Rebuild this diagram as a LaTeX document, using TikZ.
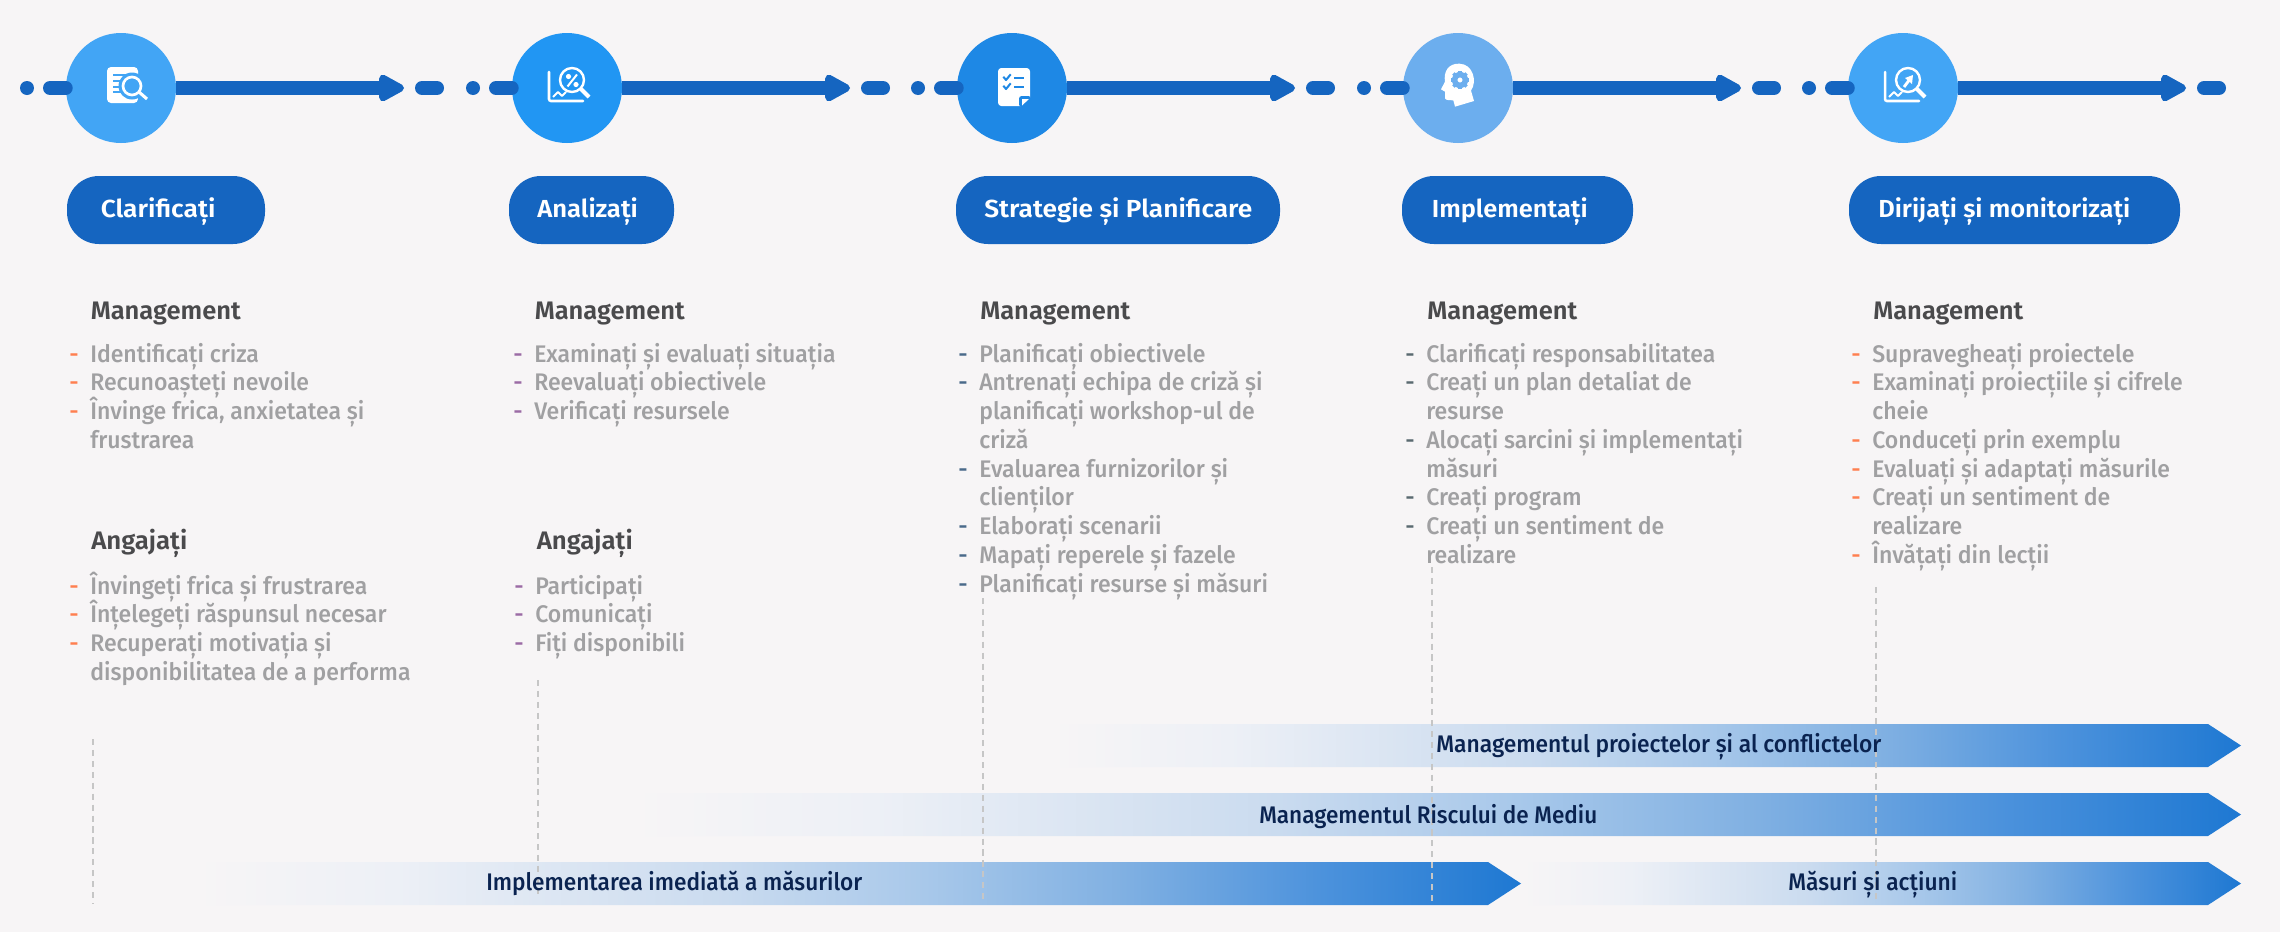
\documentclass[tikz,border=0pt]{standalone}
\usepackage{fontspec}
\usepackage{graphicx}
\setmainfont{Fira Sans}
\newfontfamily\medfont{Fira Sans Medium}
\newfontfamily\listfont[FakeStretch=0.96]{Fira Sans Medium}
\newfontfamily\semifont{Fira Sans SemiBold}
\newcommand{\tightlines}{\lineskiplimit=-20pt\relax}
\usetikzlibrary{arrows.meta}
\definecolor{bgc}{HTML}{F7F5F6}
\definecolor{flowc}{HTML}{1565C0}
\definecolor{cA}{HTML}{42A5F5}
\definecolor{cB}{HTML}{2196F3}
\definecolor{cC}{HTML}{1E88E5}
\definecolor{cD}{HTML}{6CAEEE}
\definecolor{headc}{HTML}{4A4A4C}
\definecolor{listc}{HTML}{A0A0A2}
\definecolor{navyc}{HTML}{0A2350}
\definecolor{dashc}{HTML}{C6C6C6}
\definecolor{dO}{HTML}{FF7F50}
\definecolor{dP}{HTML}{9B6BA5}
\definecolor{dB}{HTML}{4A6A8A}
\definecolor{dG}{HTML}{5A6A70}
\definecolor{g0}{HTML}{F7F5F6}
\definecolor{g1}{HTML}{EDF0F6}
\definecolor{g2}{HTML}{CADBEF}
\definecolor{g3}{HTML}{A8C8EA}
\definecolor{g4}{HTML}{80B0E2}
\definecolor{g5}{HTML}{4C92DC}
\definecolor{g6}{HTML}{1E78D2}
\pgfdeclarehorizontalshading{barfade}{100bp}{color(0bp)=(g0); color(25bp)=(g0); color(32.5bp)=(g1); color(45bp)=(g2); color(52.5bp)=(g3); color(60bp)=(g4); color(67.5bp)=(g5); color(75bp)=(g6); color(100bp)=(g6)}
\newcommand{\itm}[2]{\llap{\makebox[15.75pt][l]{\textcolor{#1}{-}}}#2}
\newcommand{\chartglyph}[1]{%
  \draw[white,line width=1.9pt,line cap=round,rounded corners=1.5pt] (#1-18,72)--(#1-18,101)--(#1+16,101);
  \draw[white,line width=1.5pt,line join=round] (#1-14,97)--(#1-9,92)--(#1-5,96)--(#1-1,92);
  \draw[white,line width=1.8pt] (#1+5,80) circle[radius=12];
  \draw[white,line width=3pt] (#1+14,89)--(#1+22,97);
}
\tikzset{
  x=0.75pt,y=-0.75pt,
  flow/.style={flowc,line width=10.5pt},
  flowhead/.style={-{Triangle[length=22pt,width=22pt,round]}},
  flowdash/.style={flow,line cap=round},
  dotnode/.style={circle,fill=flowc,inner sep=0pt,minimum size=10.5pt},
  disc/.style={circle,inner sep=0pt,minimum size=82.5pt},
  pill/.style={fill=flowc,rounded corners=24pt,inner sep=0pt,minimum height=51pt},
  pilltext/.style={anchor=base west,inner sep=0pt,text=white,font=\fontsize{18.5}{18.5}\semifont},
  headtext/.style={anchor=base west,inner sep=0pt,text=headc,font=\fontsize{19}{19}\semifont},
  listtext/.style={anchor=base west,inner sep=0pt,text=listc,align=left,font=\fontsize{18}{21.56}\listfont\tightlines},
  guide/.style={dashc,line width=1.8pt,dash pattern=on 4.6pt off 3.6pt},
  barshape/.style={shading=barfade},
  bartext/.style={anchor=base west,inner sep=0pt,text=navyc,font=\fontsize{18}{18}\medfont},
}
\begin{document}
\begin{tikzpicture}
\useasboundingbox (0,0) rectangle (2280,932);
\fill[bgc] (0,0) rectangle (2280,932);

% guides and bars
\path[barshape] (1051,724)--(2208,724)--(2241,745.5)--(2208,767)--(1051,767)--cycle;
\path[barshape] (633,793)--(2208,793)--(2241,814.5)--(2208,836)--(633,836)--cycle;
\path[barshape] (196,862)--(1488,862)--(1521,883.5)--(1488,905)--(196,905)--cycle;
\path[barshape] (1522,862)--(2208,862)--(2241,883.5)--(2208,905)--(1522,905)--cycle;
\coordinate (ga1) at (93,739);   \coordinate (gb1) at (93,904);
\coordinate (ga2) at (538,680);  \coordinate (gb2) at (538,898);
\coordinate (ga3) at (983,598);  \coordinate (gb3) at (983,902);
\coordinate (ga4) at (1432,567); \coordinate (gb4) at (1432,903);
\coordinate (ga5) at (1876,587); \coordinate (gb5) at (1876,902);
\foreach \i in {1,...,5} \draw[guide] (ga\i)--(gb\i);
\node[bartext] (t1) at (1436,752) {\resizebox{333.75pt}{\height}{Managementul proiectelor și al conflictelor}};
\node[bartext] (t2) at (1259,823) {\resizebox{253.5pt}{\height}{Managementul Riscului de Mediu}};
\node[bartext] (t3) at (486,890) {\resizebox{282pt}{\height}{Implementarea imediată a măsurilor}};
\node[bartext] (t4) at (1788,890) {\resizebox{126.75pt}{\height}{Măsuri și acțiuni}};

% timeline
\foreach \i/\c/\col in {1/121/cA,2/567/cB,3/1012/cC,4/1458/cD,5/1903/cA}{
  \node[dotnode] (dot\i) at (\c-94,88) {};
  \coordinate (ds\i) at (\c-71,88);
  \coordinate (ah\i) at (\c+283,88);
  \coordinate (es\i) at (\c+301,88);
  \coordinate (ee\i) at (\c+316,88);
  \node[disc,fill=\col] (c\i) at (\c,88) {};
  \draw[flowdash] (ds\i)--(c\i.west);
  \draw[flow,flowhead] (c\i.east)--(ah\i);
  \draw[flowdash] (es\i)--(ee\i);
}

% icon 1
\fill[white,rounded corners=3pt] (107,67)--(138,67)--(138,103)--(107,103)--cycle;
\draw[cA,line width=1.6pt] (113,75)--(129,75) (113,80.7)--(121,80.7) (113,86.7)--(120,86.7) (113,92)--(121,92);
\fill[cA] (132,86) circle[radius=13.5];
\fill[cA] (138,95) rectangle (150,105);
\draw[white,line width=2pt] (132,86) circle[radius=9];
\draw[white,line width=2.3pt] (139,92)--(147,99);
% icon 2
\chartglyph{567}
\fill[white] (568.5,76.5) circle[radius=2.6] (576,84.5) circle[radius=2.6];
\draw[white,line width=1.5pt] (577,74.5)--(567.5,86.5);
% icon 3
\fill[white,rounded corners=2.5pt] (998,68)--(1030,68)--(1030,106)--(998,106)--cycle;
\fill[cC,rounded corners=2pt] (1019,96)--(1031,96)--(1031,107)--(1019,107)--cycle;
\fill[white] (1022,105.5)--(1022,99)--(1029,99)--cycle;
\draw[cC,line width=1.5pt,line join=round] (1003.3,76.7)--(1006,80)--(1010.7,74.3) (1003.3,85.7)--(1006,89)--(1010.7,83.3);
\draw[cC,line width=1.5pt] (1014,78.3)--(1024,78.3) (1014,87.3)--(1024,87.3);
% icon 4
\begin{scope}[shift={(1390,40)},scale=1/3]
\fill[white] (195,200)--(252,183)--(243,152) .. controls (262,125) and (250,72) .. (208,71) .. controls (175,70) and (160,95) .. (165,125)--(153,148)--(165,155)--(165,175) .. controls (168,182) and (180,180) .. (190,181)--cycle;
\draw[cD,line width=4.2pt] (210,120) circle[radius=17];
\foreach \a in {0,45,...,315} \fill[cD,rotate around={\a:(210,120)}] (205,92) rectangle (215,102);
\end{scope}
% icon 5
\chartglyph{1903}
\draw[white,line width=2.2pt] (1904,87)--(1910,79);
\fill[white] (1913,75)--(1912,84)--(1905,78)--cycle;

% pills
\node[pill,minimum width=148.5pt] (p1) at (166,210) {};
\node[pill,minimum width=123.75pt] (p2) at (591.5,210) {};
\node[pill,minimum width=243pt] (p3) at (1118,210) {};
\node[pill,minimum width=173.25pt] (p4) at (1517.5,210) {};
\node[pill,minimum width=248.25pt] (p5) at (2014.5,210) {};
\node[pilltext] (pt1) at (100.5,217) {\resizebox{86pt}{\height}{Clarificați}};
\node[pilltext] (pt2) at (537,217) {\resizebox{75.5pt}{\height}{Analizați}};
\node[pilltext] (pt3) at (984,217) {\resizebox{201pt}{\height}{Strategie și Planificare}};
\node[pilltext] (pt4) at (1431.5,217) {\resizebox{117pt}{\height}{Implementați}};
\node[pilltext] (pt5) at (1878,217) {\resizebox{189pt}{\height}{Dirijați și monitorizați}};

% headings
\foreach \i/\x in {1/90.5,2/534.5,3/980,4/1427,5/1873}
  \node[headtext] (mh\i) at (\x,319) {\resizebox{112.5pt}{\height}{Management}};
\node[headtext] (ah1) at (91,549) {\resizebox{72pt}{\height}{Angajați}};
\node[headtext] (ah2) at (536.5,549) {\resizebox{72pt}{\height}{Angajați}};

% lists
\node[listtext] (l1) at (90,448.25) {\itm{dO}{Identificați criza}\\\itm{dO}{Recunoașteți nevoile}\\\itm{dO}{Învinge frica, anxietatea și}\\frustrarea};
\node[listtext] (l1b) at (90,680.25) {\itm{dO}{Învingeți frica și frustrarea}\\\itm{dO}{Înțelegeți răspunsul necesar}\\\itm{dO}{Recuperați motivația și}\\disponibilitatea de a performa};
\node[listtext] (l2) at (534,419.5) {\itm{dP}{Examinați și evaluați situația}\\\itm{dP}{Reevaluați obiectivele}\\\itm{dP}{Verificați resursele}};
\node[listtext] (l2b) at (535,651.5) {\itm{dP}{Participați}\\\itm{dP}{Comunicați}\\\itm{dP}{Fiți disponibili}};
\node[listtext] (l3) at (979,592) {\itm{dB}{Planificați obiectivele}\\\itm{dB}{Antrenați echipa de criză și}\\planificați workshop-ul de\\criză\\\itm{dB}{Evaluarea furnizorilor și}\\clienților\\\itm{dB}{Elaborați scenarii}\\\itm{dB}{Mapați reperele și fazele}\\\itm{dB}{Planificați resurse și măsuri}};
\node[listtext] (l4) at (1426,563.25) {\itm{dG}{Clarificați responsabilitatea}\\\itm{dG}{Creați un plan detaliat de}\\resurse\\\itm{dG}{Alocați sarcini și implementați}\\măsuri\\\itm{dG}{Creați program}\\\itm{dG}{Creați un sentiment de}\\realizare};
\node[listtext] (l5) at (1872,563.25) {\itm{dO}{Supravegheați proiectele}\\\itm{dO}{Examinați proiecțiile și cifrele}\\cheie\\\itm{dO}{Conduceți prin exemplu}\\\itm{dO}{Evaluați și adaptați măsurile}\\\itm{dO}{Creați un sentiment de}\\realizare\\\itm{dO}{Învățați din lecții}};
\end{tikzpicture}
\end{document}
